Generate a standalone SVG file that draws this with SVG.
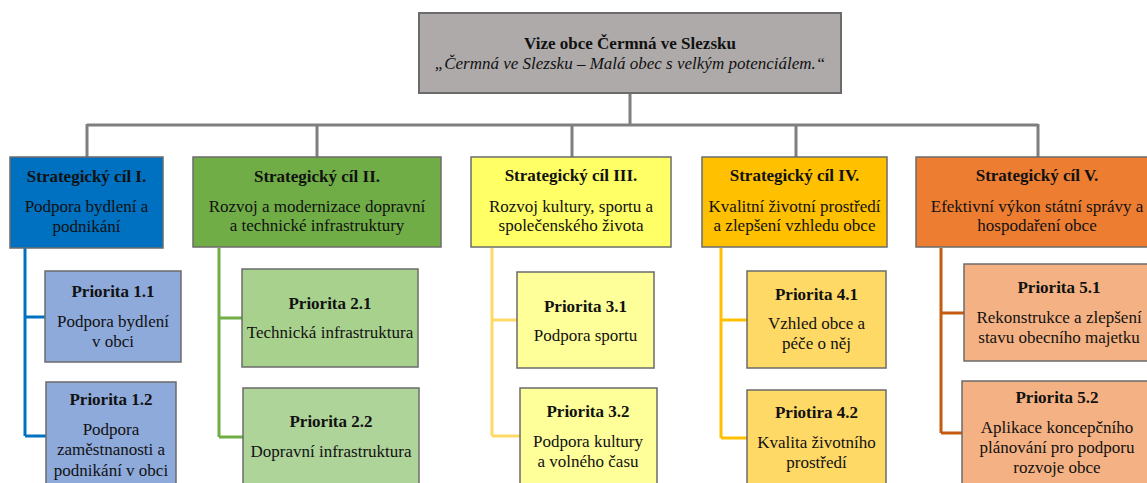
<svg xmlns="http://www.w3.org/2000/svg" width="1147" height="483" viewBox="0 0 1147 483">
<style>
text{font-family:"Liberation Serif","Times New Roman",serif;font-size:17px;fill:#111;text-anchor:middle}
.b{font-weight:bold}
.i{font-style:italic}
.box{stroke:#6b6b6b;stroke-width:1.5}
.top{fill:#aeaaaa;stroke:#6b6b6b;stroke-width:2}
.c{fill:none;stroke-width:3}
</style>
<rect width="1147" height="483" fill="#fff"/>
<g id="connectors">
<path class="c" stroke="#7f7f7f" d="M630 93V125M87 125H1038M87 124V157M317 124V157M572 124V157M796 124V157M1038 124V157"/>
<path class="c" stroke="#0070c0" d="M25 248V436M25 317H45M25 436H46"/>
<path class="c" stroke="#70ad47" d="M219 248V437M219 318H242M219 437H243"/>
<path class="c" stroke="#ffd966" d="M492 248V436M492 320H517M492 436H520"/>
<path class="c" stroke="#ffc000" d="M721 248V438M721 320H747M721 438H747"/>
<path class="c" stroke="#c55a11" d="M941 248V433M941 313H964M941 433H962"/>
</g>
<g id="vize">
<rect class="top" x="419" y="13" width="422" height="80"/>
<text class="b" x="630" y="49">Vize obce Čermná ve Slezsku</text>
<text class="i" x="630" y="69">„Čermná ve Slezsku – Malá obec s velkým potenciálem.“</text>
</g>
<g id="cil1">
<rect class="box" x="10" y="157" width="153" height="91" fill="#0070c0"/>
<text class="b" x="86.5" y="182">Strategický cíl I.</text>
<text x="86.5" y="212">Podpora bydlení a</text>
<text x="86.5" y="232">podnikání</text>
</g>
<g id="cil2">
<rect class="box" x="193" y="157" width="248" height="90" fill="#70ad47"/>
<text class="b" x="317" y="182">Strategický cíl II.</text>
<text x="317" y="212">Rozvoj a modernizace dopravní</text>
<text x="317" y="231">a technické infrastruktury</text>
</g>
<g id="cil3">
<rect class="box" x="471" y="157" width="200" height="90" fill="#ffff66"/>
<text class="b" x="571" y="181">Strategický cíl III.</text>
<text x="571" y="212">Rozvoj kultury, sportu a</text>
<text x="571" y="231">společenského života</text>
</g>
<g id="cil4">
<rect class="box" x="702" y="157" width="185" height="90" fill="#ffc000"/>
<text class="b" x="794.5" y="181">Strategický cíl IV.</text>
<text x="794.5" y="212">Kvalitní životní prostředí</text>
<text x="794.5" y="231">a zlepšení vzhledu obce</text>
</g>
<g id="cil5">
<rect class="box" x="916" y="157" width="242" height="90" fill="#ed7d31"/>
<text class="b" x="1037" y="181">Strategický cíl V.</text>
<text x="1037" y="212">Efektivní výkon státní správy a</text>
<text x="1037" y="231">hospodaření obce</text>
</g>
<g id="p11">
<rect class="box" x="45" y="271" width="136" height="91" fill="#8eaadb"/>
<text class="b" x="113" y="297">Priorita 1.1</text>
<text x="113" y="327">Podpora bydlení</text>
<text x="113" y="347">v obci</text>
</g>
<g id="p12">
<rect class="box" x="46" y="382" width="130" height="110" fill="#8eaadb"/>
<text class="b" x="111" y="405">Priorita 1.2</text>
<text x="111" y="435">Podpora</text>
<text x="111" y="455">zaměstnanosti a</text>
<text x="111" y="476">podnikání v obci</text>
</g>
<g id="p21">
<rect class="box" x="242" y="269" width="176" height="98" fill="#a9d18e"/>
<text class="b" x="330" y="309">Priorita 2.1</text>
<text x="330" y="338">Technická infrastruktura</text>
</g>
<g id="p22">
<rect class="box" x="243" y="388" width="176" height="105" fill="#aed49a"/>
<text class="b" x="331" y="427">Priorita 2.2</text>
<text x="331" y="457">Dopravní infrastruktura</text>
</g>
<g id="p31">
<rect class="box" x="517" y="272" width="137" height="96" fill="#ffff99"/>
<text class="b" x="585.5" y="312">Priorita 3.1</text>
<text x="585.5" y="341">Podpora sportu</text>
</g>
<g id="p32">
<rect class="box" x="520" y="388" width="137" height="105" fill="#ffff99"/>
<text class="b" x="588" y="417">Priorita 3.2</text>
<text x="588" y="447">Podpora kultury</text>
<text x="588" y="467">a volného času</text>
</g>
<g id="p41">
<rect class="box" x="747" y="271" width="139" height="97" fill="#ffd966"/>
<text class="b" x="816.5" y="300">Priorita 4.1</text>
<text x="816.5" y="329">Vzhled obce a</text>
<text x="816.5" y="349">péče o něj</text>
</g>
<g id="p42">
<rect class="box" x="747" y="390" width="139" height="103" fill="#ffd966"/>
<text class="b" x="816.5" y="418">Priotira 4.2</text>
<text x="816.5" y="448">Kvalita životního</text>
<text x="816.5" y="468">prostředí</text>
</g>
<g id="p51">
<rect class="box" x="964" y="264" width="190" height="97" fill="#f4b183"/>
<text class="b" x="1059" y="293">Priorita 5.1</text>
<text x="1059" y="323">Rekonstrukce a zlepšení</text>
<text x="1059" y="343">stavu obecního majetku</text>
</g>
<g id="p52">
<rect class="box" x="962" y="381" width="192" height="112" fill="#f4b183"/>
<text class="b" x="1057" y="403">Priorita 5.2</text>
<text x="1057" y="433">Aplikace koncepčního</text>
<text x="1057" y="453">plánování pro podporu</text>
<text x="1057" y="473">rozvoje obce</text>
</g>
</svg>
